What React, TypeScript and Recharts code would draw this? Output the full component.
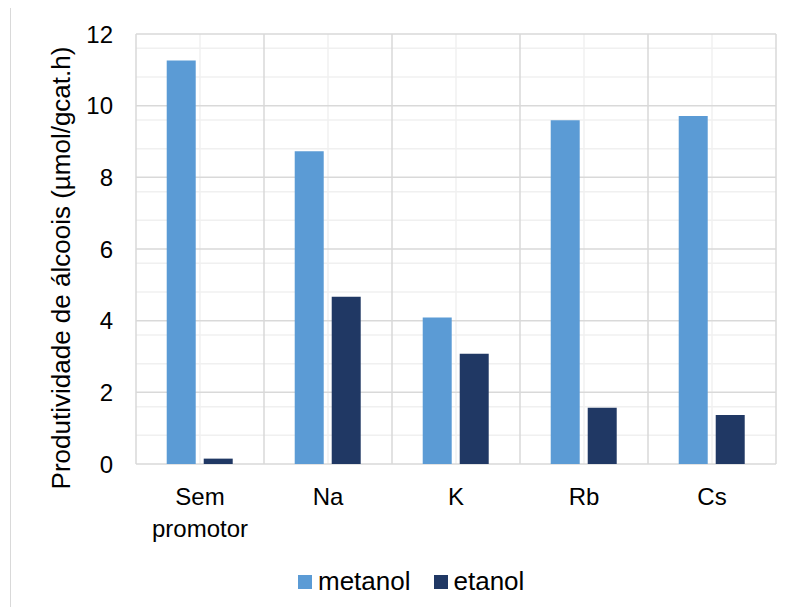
import React from "react";
import {
  Bar,
  BarChart,
  CartesianGrid,
  Legend,
  XAxis,
  YAxis,
} from "recharts";

const categories = ["Sem promotor", "Na", "K", "Rb", "Cs"];
const seriesNames = ["metanol", "etanol"];
const metanol = [11.26, 8.73, 4.09, 9.59, 9.71];
const etanol = [0.15, 4.67, 3.08, 1.57, 1.37];
const yTicks = [0, 2, 4, 6, 8, 10, 12];
const yMinor = [0.4, 0.8, 1.2, 1.6, 2.4, 2.8, 3.2, 3.6, 4.4, 4.8, 5.2, 5.6, 6.4, 6.8, 7.2, 7.6, 8.4, 8.8, 9.2, 9.6, 10.4, 10.8, 11.2, 11.6];
// grid positions in category units (boundaries and centres)
const xBounds = [0, 1, 2, 3, 4, 5];
const xMids = [0.5, 1.5, 2.5, 3.5, 4.5];

const data = categories.map((name, i) => ({
  name,
  metanol: metanol[i],
  etanol: etanol[i],
}));

const FONT = "'Liberation Sans', Arial, sans-serif";

const gridX = (vals: number[]) => ({ offset }: any) =>
  vals.map((v) => offset.left + (offset.width * v) / categories.length);

function CategoryTick({ x, y, payload }: any) {
  const lines = String(payload.value).split(" ");
  return (
    <text x={x} y={y} textAnchor="middle" fill="#000" fontSize={24} fontFamily={FONT}>
      {lines.map((l, i) => (
        <tspan key={i} x={x} dy={i === 0 ? 41 : 32}>
          {l}
        </tspan>
      ))}
    </text>
  );
}

function LegendContent({ payload }: any) {
  const items = [...(payload || [])].sort(
    (a: any, b: any) => seriesNames.indexOf(a.value) - seriesNames.indexOf(b.value)
  );
  return (
    <div style={{ display: "flex", alignItems: "center", fontFamily: FONT, fontSize: 26 }}>
      {items.map((p: any, i: number) => (
        <div key={i} style={{ display: "flex", alignItems: "center", marginRight: 23 }}>
          <span style={{ width: 14, height: 14, background: p.color, marginRight: 6, display: "inline-block" }} />
          <span style={{ color: "#000" }}>{p.value}</span>
        </div>
      ))}
    </div>
  );
}

export default function App() {
  return (
    <div style={{ position: "relative", width: 795, height: 615, margin: -8, overflow: "hidden", background: "#fff" }}>
      <div
        style={{
          position: "absolute",
          left: 10,
          top: 5,
          width: 900,
          height: 700,
          border: "1.5px solid #D9D9D9",
        }}
      />
      <BarChart
        width={795}
        height={615}
        data={data}
        margin={{ top: 34, right: 19, bottom: 0, left: 0 }}
        barCategoryGap="24%"
        barGap={8}
        style={{ position: "absolute", left: 0, top: 0 }}
      >
        <CartesianGrid
          stroke="#F0F0F0"
          strokeWidth={1.5}
          horizontalValues={yMinor}
          verticalCoordinatesGenerator={gridX(xMids)}
        />
        <CartesianGrid
          stroke="#D9D9D9"
          strokeWidth={1.5}
          horizontalValues={yTicks}
          verticalCoordinatesGenerator={gridX(xBounds)}
        />
        <XAxis
          dataKey="name"
          height={151}
          axisLine={false}
          tickLine={false}
          tickSize={0}
          tickMargin={0}
          interval={0}
          tick={<CategoryTick />}
        />
        <YAxis
          width={136}
          domain={[0, 12]}
          ticks={yTicks}
          axisLine={false}
          tickLine={false}
          tickSize={0}
          tickMargin={23}
          tick={{ fill: "#000", fontSize: 24, fontFamily: FONT }}
          label={() => {
            const cy = 268;
            return (
              <text
                x={70}
                y={cy}
                transform={`rotate(-90, 70, ${cy})`}
                textAnchor="middle"
                fill="#000"
                fontSize={26}
                fontFamily={FONT}
              >
                Produtividade de álcoois (µmol/gcat.h)
              </text>
            );
          }}
        />
        <Legend
          layout="horizontal"
          verticalAlign="middle"
          align="center"
          wrapperStyle={{ position: "absolute", left: 298, top: 566, width: "auto" }}
          content={<LegendContent />}
        />
        <Bar dataKey="metanol" name="metanol" fill="#5B9BD5" isAnimationActive={false} />
        <Bar dataKey="etanol" name="etanol" fill="#203864" isAnimationActive={false} />
      </BarChart>
    </div>
  );
}
